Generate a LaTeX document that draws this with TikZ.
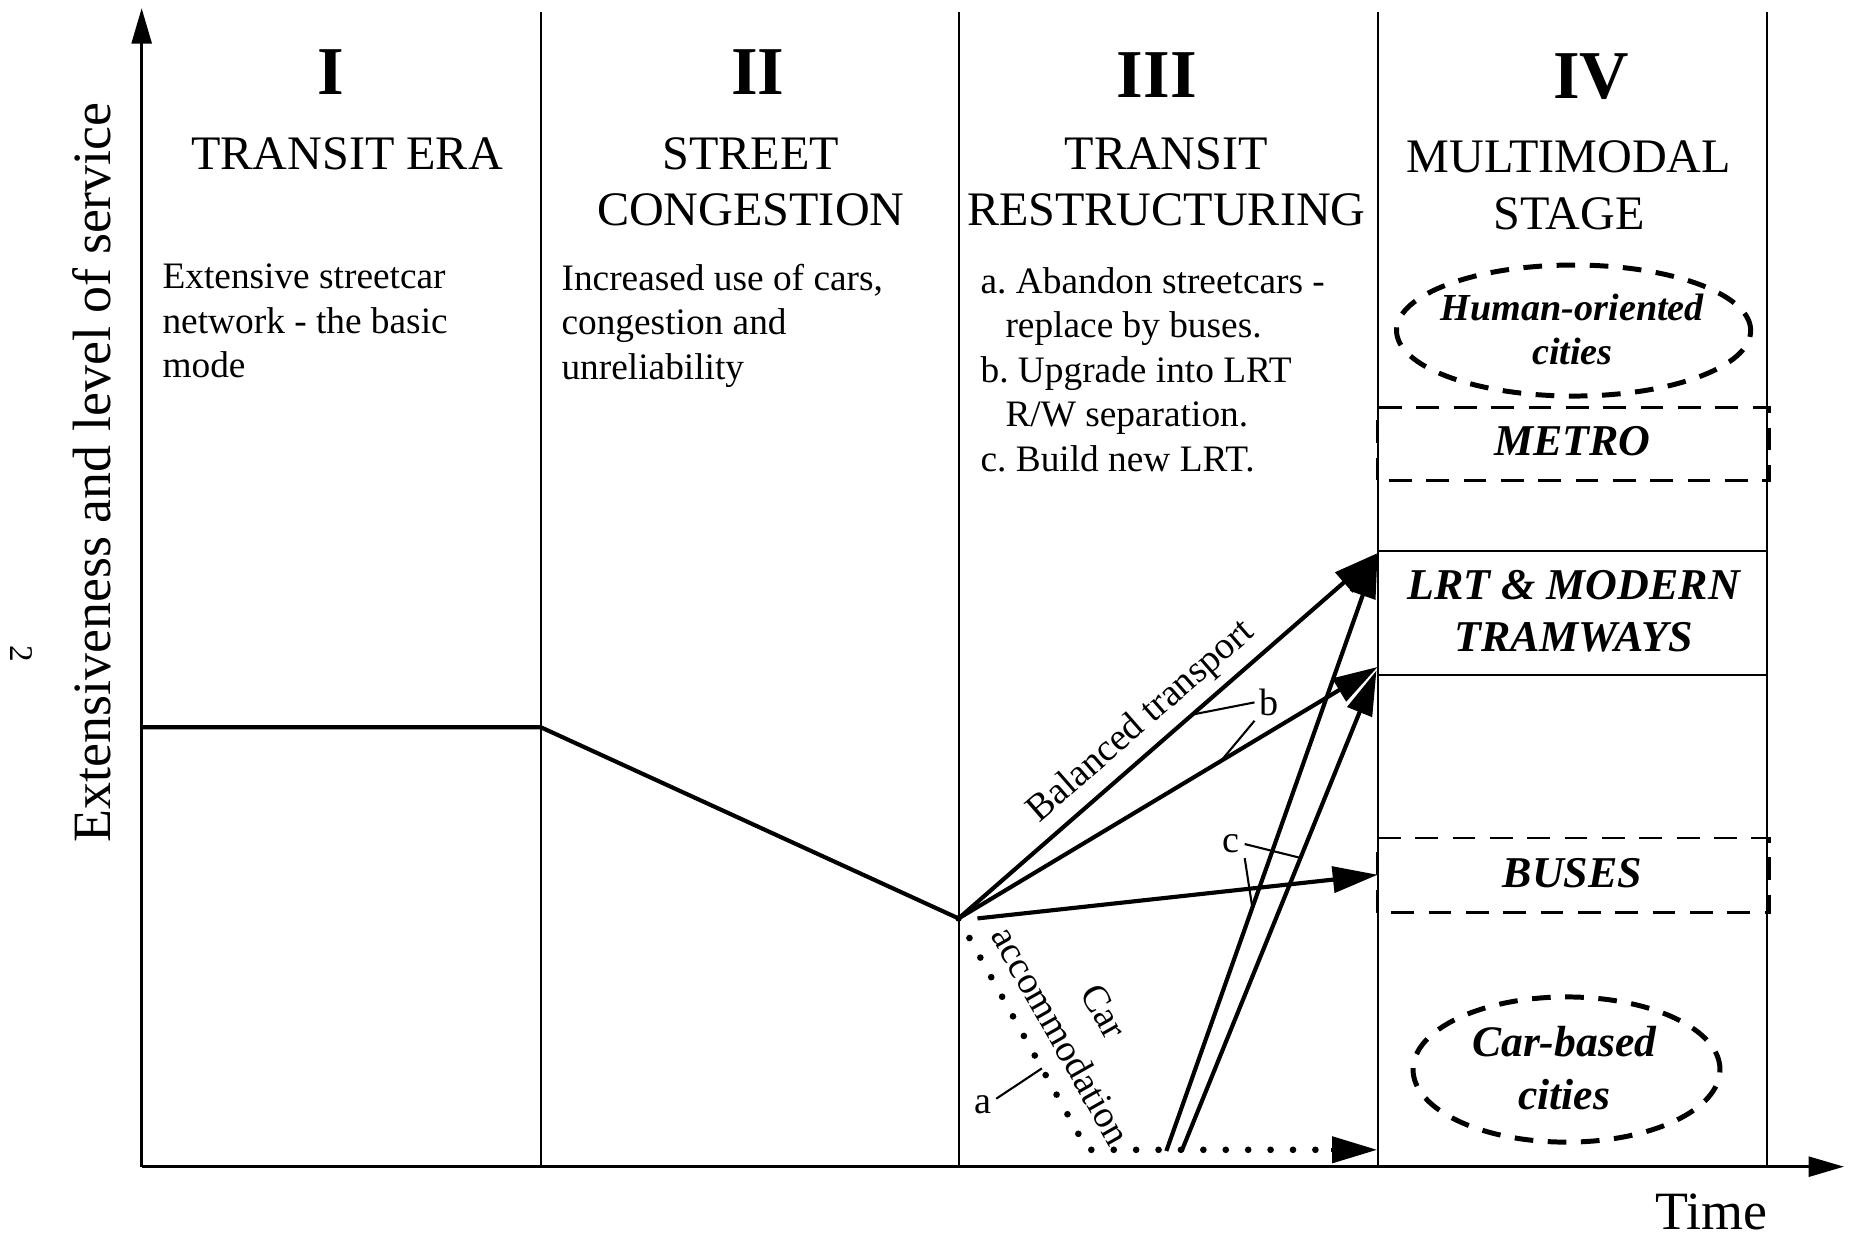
\documentclass[tikz,border=0pt]{standalone}
\usepackage{fontspec}
\setmainfont{Liberation Serif}
\usetikzlibrary{arrows.meta}

\tikzset{
  frameline/.style={line width=0.5pt},
  axisline/.style={line width=0.6pt,-{Triangle[length=3mm,width=1.7mm]}},
  trend/.style={line width=1pt},
  modearrow/.style={line width=1pt,-{Triangle[length=3.8mm,width=2.2mm]}},
  cardots/.style={line width=1.6pt,line cap=round,dash pattern=on 0pt off 5.4pt},
  numeral/.style={font=\fontsize{16.5}{18}\selectfont\bfseries},
  phasehead/.style={font=\fontsize{11.6}{13.7}\selectfont,align=center},
  phasetext/.style={font=\fontsize{9}{10.7}\selectfont,align=left,anchor=north west,inner sep=0pt},
  modebox/.style={line width=0.6pt,dash pattern=on 5.5pt off 3.5pt},
  modelabel/.style={font=\fontsize{10.6}{12.5}\selectfont\bfseries\itshape,align=center},
  cityline/.style={line width=1.2pt,dash pattern=on 4.5pt off 3.5pt},
  linelabel/.style={font=\fontsize{9.2}{12}\selectfont,inner sep=1pt},
}

\begin{document}
\begin{tikzpicture}
\useasboundingbox (0,0) rectangle (15.68,10.47);

% Axes
\draw[axisline] (1.20,0.587) -- (1.20,10.40);
\draw[axisline] (1.20,0.587) -- (15.62,0.587);
\node[font=\fontsize{13}{15}\selectfont,rotate=90] (ylabel) at (0.775,6.47) {Extensiveness and level of service};
\node[font=\fontsize{13}{15}\selectfont] (xlabel) at (14.50,0.20) {Time};
\node[font=\fontsize{8}{9}\selectfont,rotate=-90] (pageno) at (0.18,4.93) {2};

% Phase borders
\foreach \x in {4.58,8.12,11.67,14.97}
  \draw[frameline] (\x,0.587) -- (\x,10.37);

% Phase headings
\node[numeral] (n1) at (2.80,9.86) {I};
\node[numeral] (n2) at (6.42,9.86) {II};
\node[numeral] (n3) at (9.80,9.83) {III};
\node[numeral] (n4) at (13.48,9.82) {IV};
\node[phasehead] (h1) at (2.94,9.17) {TRANSIT ERA};
\node[phasehead] (h2) at (6.36,8.93) {STREET\\CONGESTION};
\node[phasehead] (h3) at (9.88,8.93) {TRANSIT\\RESTRUCTURING};
\node[phasehead] (h4) at (13.29,8.90) {MULTIMODAL\\STAGE};

% Phase descriptions
\node[phasetext] (t1) at (1.37,8.24) {Extensive streetcar\\network - the basic\\mode};
\node[phasetext] (t2) at (4.75,8.24) {Increased use of cars,\\congestion and\\unreliability};
\node[phasetext] (t3) at (8.30,8.21) {a.\ Abandon streetcars -\\\hspace*{6pt}replace by buses.\\b.\ Upgrade into LRT\\\hspace*{6pt}R/W separation.\\c.\ Build new LRT.};

% Stage IV modes
\draw[cityline] (13.33,7.67) ellipse [x radius=1.50, y radius=0.555];
\node[modelabel,font=\fontsize{9.2}{10.5}\selectfont\bfseries\itshape] (human) at (13.32,7.68) {Human-oriented\\cities};
\draw[modebox] (11.67,6.40) rectangle (14.99,7.02);
\node[modelabel] (metro) at (13.32,6.73) {METRO};
\draw[frameline] (11.67,4.75) rectangle (14.97,5.80);
\node[modelabel] (lrt) at (13.33,5.29) {LRT \& MODERN\\TRAMWAYS};
\draw[modebox] (11.67,2.74) rectangle (14.99,3.37);
\node[modelabel] (buses) at (13.32,3.07) {BUSES};
\draw[cityline] (13.27,1.41) ellipse [x radius=1.30, y radius=0.615];
\node[modelabel,font=\fontsize{10.5}{12.8}\selectfont\bfseries\itshape] (carcity) at (13.25,1.42) {Car-based\\cities};

% Level of service
\coordinate (dip) at (8.12,2.69);
\coordinate (lrttop) at (11.67,5.785);
\coordinate (lrtlow) at (11.67,4.82);
\coordinate (lrtlow2) at (11.66,4.79);
\coordinate (busmid) at (11.67,3.06);
\coordinate (busfrom) at (8.28,2.69);
\coordinate (cfoot1) at (9.88,0.72);
\coordinate (cfoot2) at (10.01,0.72);
\coordinate (carturn) at (9.21,0.73);
\coordinate (carend) at (11.665,0.73);
\draw[trend] (1.20,4.31) -- (4.58,4.31) -- (dip);

\draw[modearrow] (dip) -- node[pos=0.48,sloped,above,linelabel,inner sep=2pt] (baltxt) {Balanced transport}
  coordinate[pos=0.558] (b1) (lrttop);
\draw[modearrow] (dip) -- coordinate[pos=0.626] (b2) (lrtlow);
\draw[modearrow] (busfrom) -- (busmid);
\draw[modearrow] (cfoot1) -- coordinate[pos=0.407] (c1) (lrttop);
\draw[modearrow] (cfoot2) -- coordinate[pos=0.61] (c2) (lrtlow2);
\draw[cardots] (dip) -- coordinate[pos=0.648] (a1) (carturn) -- (carend);
\draw[line width=1pt,-{Triangle[length=3.8mm,width=2.2mm]}] ([xshift=-3.9mm]carend) -- (carend);
\node[linelabel,rotate=-60.5,align=center] (cartxt) at (9.17,1.80) {Car\\accommodation};

% Option labels
\node[linelabel] (lblb) at (10.75,4.52) {b};
\draw[frameline] (lblb.west) -- (b1);
\draw[frameline] (lblb.south west) -- (b2);
\node[linelabel] (lblc) at (10.43,3.32) {c};
\draw[frameline] (lblc.east) -- (c2);
\draw[frameline] (lblc.south east) -- (c1);
\node[linelabel] (lbla) at (8.325,1.11) {a};
\draw[frameline] ([yshift=1.5pt]lbla.east) -- (a1);
\end{tikzpicture}
\end{document}
